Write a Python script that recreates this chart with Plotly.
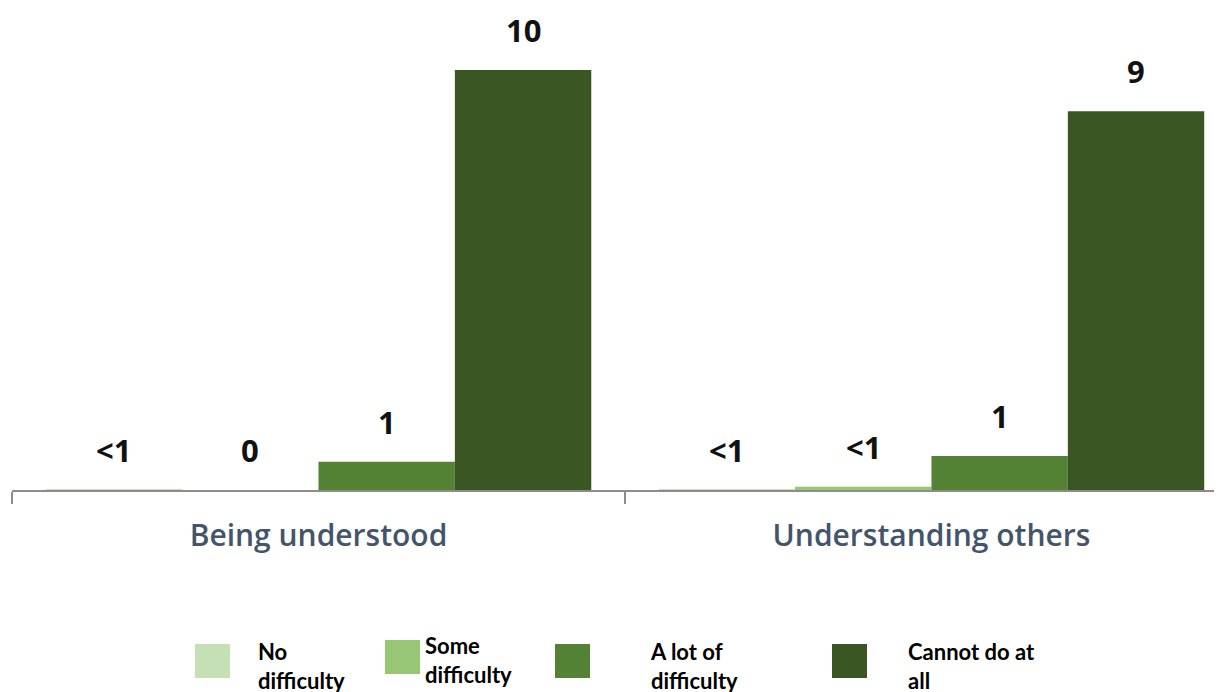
import plotly.graph_objects as go

# data
categories = ["Being understood", "Understanding others"]
series_names = ["No difficulty", "Some difficulty", "A lot of difficulty", "Cannot do at all"]
legend_labels = ["No<br>difficulty", "Some<br>difficulty", "A lot of<br>difficulty", "Cannot do at<br>all"]
no_difficulty = [0.01, 0.01]
some_difficulty = [0.0, 0.08]
a_lot_of_difficulty = [0.67, 0.81]
cannot_do = [10.0, 9.02]
no_difficulty_labels = ["<1", "<1"]
some_difficulty_labels = ["0", "<1"]
a_lot_labels = ["1", "1"]
cannot_do_labels = ["10", "9"]
colors = ["#c5e0b4", "#97c674", "#548235", "#3a5623"]

values = [no_difficulty, some_difficulty, a_lot_of_difficulty, cannot_do]
labels = [no_difficulty_labels, some_difficulty_labels, a_lot_labels, cannot_do_labels]

# the page adds an 8px body margin, so layout is laid out 8px up/left
OFF = 8
W, H = 1222, 692
ML, MR, MT, MB = 12 - OFF, OFF, 28 - OFF, 202 + OFF
BARGAP = 0.11

fig = go.Figure()
for name, vals, col in zip(series_names, values, colors):
    fig.add_trace(go.Bar(x=categories, y=vals, name=name, marker_color=col,
                         marker_line_width=0, showlegend=False))

# data labels above bars
bw = (1 - BARGAP) / len(values)
for j, (vals, labs) in enumerate(zip(values, labels)):
    off = (j - (len(values) - 1) / 2) * bw
    for i, (v, t) in enumerate(zip(vals, labs)):
        fig.add_annotation(x=i + off, y=v, text=t, showarrow=False,
                           xref="x", yref="y", yanchor="middle", yshift=40,
                           font=dict(family="Open Sans", size=31, color="#111111", weight="bold"))

# legend drawn by hand (big square swatches), positions in screen pixels
pw = W - ML - MR
ph = H - MT - MB


def fx(px):
    return (px - OFF - ML) / pw


def fy(py):
    return (H - MB - (py - OFF)) / ph


sw_x = [195, 385, 555, 832]
sw_y = [644, 640, 644, 644]
txt_x = [256, 423, 648, 906]
txt_y = [666, 660, 666, 666]
for k, (lab, col) in enumerate(zip(legend_labels, colors)):
    fig.add_shape(type="rect", xref="paper", yref="paper",
                  x0=fx(sw_x[k]), x1=fx(sw_x[k] + 35), y0=fy(sw_y[k] + 34), y1=fy(sw_y[k]),
                  fillcolor=col, line_width=0)
    fig.add_annotation(xref="paper", yref="paper", x=fx(txt_x[k]), y=fy(txt_y[k]),
                       text=lab, showarrow=False, xanchor="left", yanchor="middle",
                       align="left",
                       font=dict(family="Lato", size=22, color="#000000", weight="bold"))

fig.update_layout(
    width=W, height=H,
    margin=dict(l=ML, r=MR, t=MT, b=MB),
    barmode="group", bargap=BARGAP, bargroupgap=0,
    plot_bgcolor="white", paper_bgcolor="white",
    showlegend=False,
    xaxis=dict(range=[-0.5, 1.474], showline=True, linecolor="#8c8c8c", linewidth=1.5,
               ticks="outside", tickson="boundaries", ticklen=12, tickcolor="#8c8c8c",
               tickwidth=1.5, ticklabelstandoff=18,
               tickfont=dict(family="Open Sans", size=30, color="#44546a", weight=600)),
    yaxis=dict(range=[0, 11], visible=False, showgrid=False, zeroline=False),
)

fig.write_html("out.html")
